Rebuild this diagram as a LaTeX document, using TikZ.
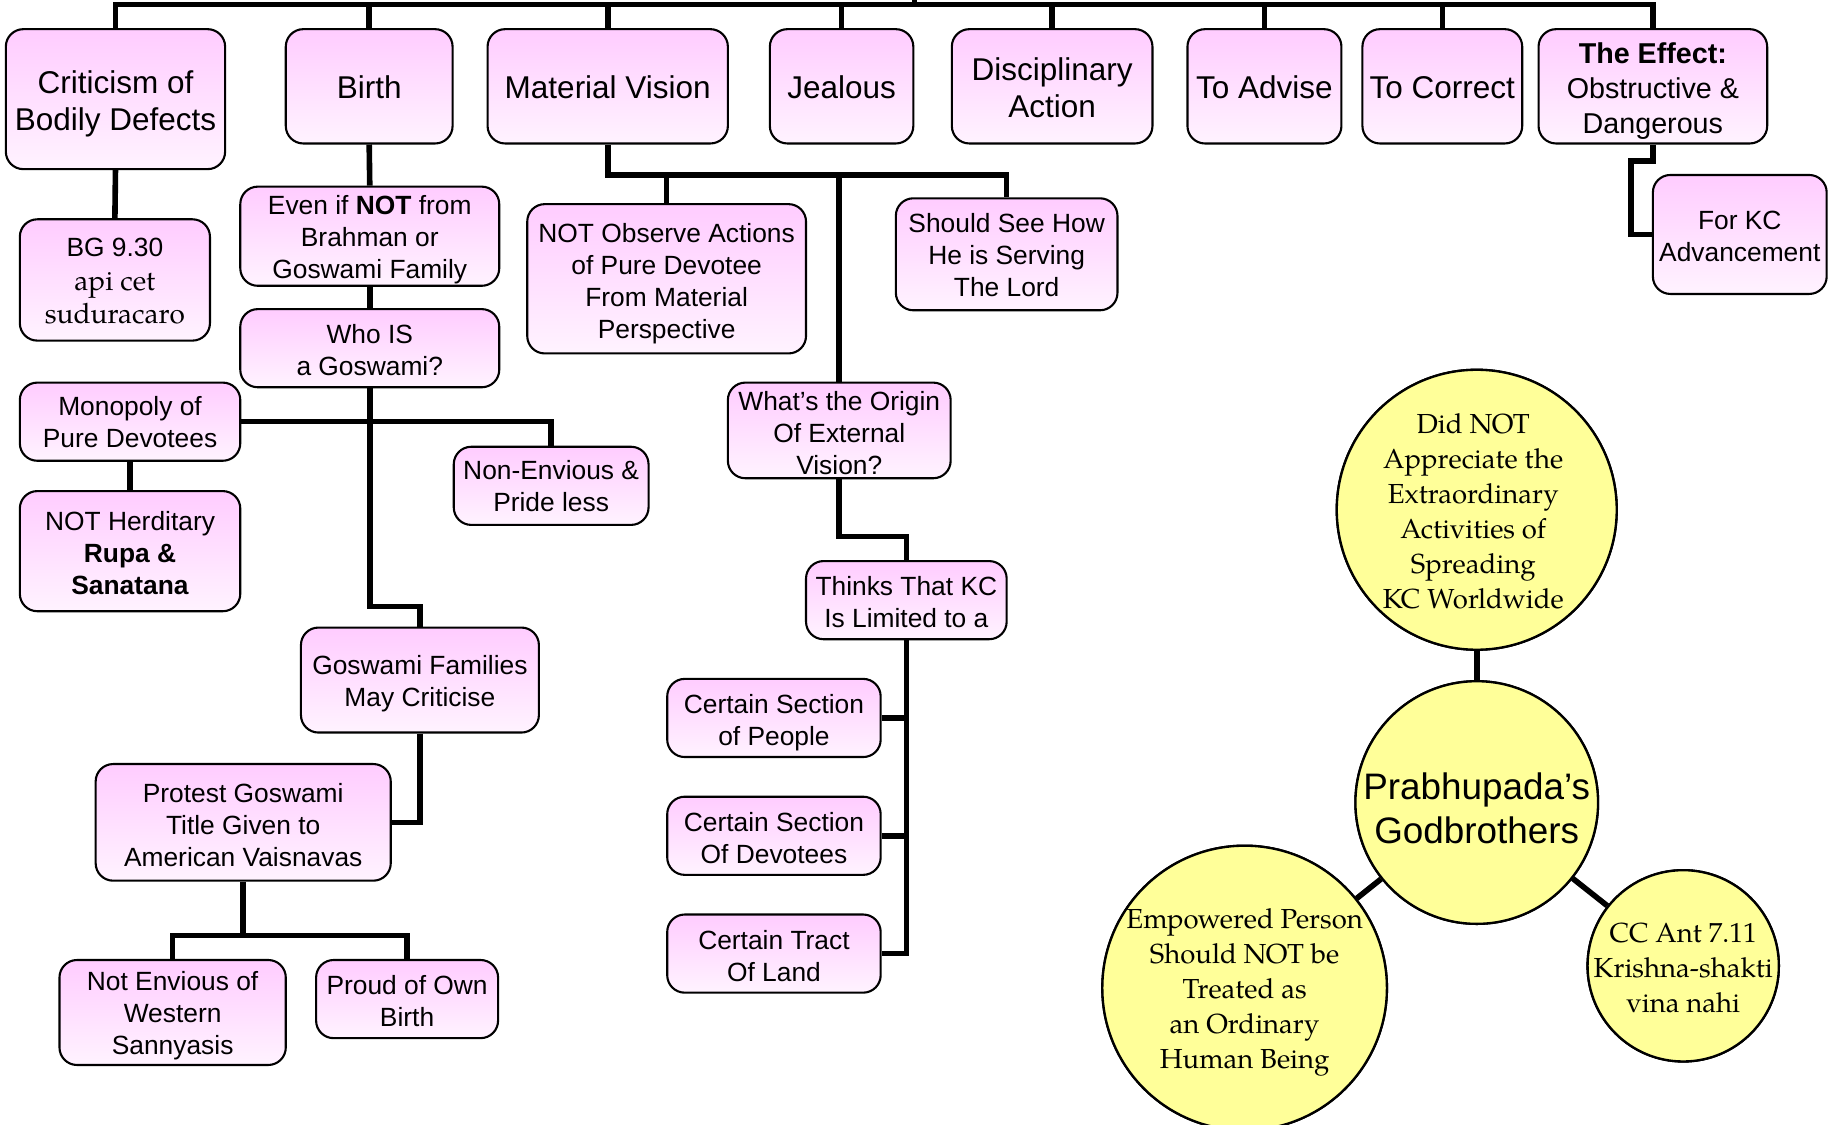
\documentclass[tikz,border=0pt]{standalone}
\usepackage{fontspec}
\setmainfont{Liberation Sans}
\newfontfamily\pal{texgyrepagella-regular.otf}
\definecolor{pinktop}{RGB}{255,204,255}
\definecolor{pinkbot}{RGB}{255,243,255}
\definecolor{bubyellow}{RGB}{255,255,153}
\newcommand\fsmall{\fontsize{11.3pt}{13.75pt}\selectfont}
\newcommand\fbig{\fontsize{13.5pt}{16pt}\selectfont}
\newcommand\feff{\fontsize{12.3pt}{15pt}\selectfont}
\newcommand\fser{\pal\fontsize{11.8pt}{15pt}\selectfont}
\newcommand\fprab{\fontsize{15.8pt}{19pt}\selectfont}
% rounded pink box given by its corners, with its text set on top:
% [text options]{name}{x1}{y1}{x2}{y2}{text}
\newcommand\pinkbox[7][]{%
  \node[pbox,minimum width={(#5-#3)*0.5pt},minimum height={(#6-#4)*0.5pt}]
    (#2) at ({(#3+#5)/2},{(#4+#6)/2}) {};
  \node[boxtext,#1] (#2t) at (#2.center) {#7};}
\begin{document}
\begin{tikzpicture}[x=0.5pt,y=-0.5pt,
  pbox/.style={draw,line width=0.9pt,rounded corners=7.5pt,top color=pinktop,
    bottom color=pinkbot,inner sep=0pt},
  boxtext/.style={align=center,inner sep=0pt,font=\fsmall,yshift=-1pt},
  conn/.style={line width=2.4pt},
  bubble/.style={circle,draw,line width=1pt,fill=bubyellow,inner sep=0pt},
  bubtext/.style={align=center,inner sep=0pt,font=\fser}]
\useasboundingbox (0,0) rectangle (1568,964);

% top row
\pinkbox[font=\fbig,yshift=-1pt]{crit}{5}{25}{193}{145}{Criticism of\\Bodily Defects}
\pinkbox[font=\fbig,yshift=0.5pt]{birth}{245}{25}{388}{123}{Birth}
\pinkbox[font=\fbig,yshift=0.5pt]{matvis}{418}{25}{624}{123}{Material Vision}
\pinkbox[font=\fbig,yshift=0.5pt]{jealous}{660}{25}{783}{123}{Jealous}
\pinkbox[font=\fbig,yshift=0.5pt]{disc}{816}{25}{988}{123}{Disciplinary\\Action}
\pinkbox[font=\fbig,yshift=0.5pt]{advise}{1018}{25}{1150}{123}{To Advise}
\pinkbox[font=\fbig,yshift=0.5pt]{correct}{1168}{25}{1305}{123}{To Correct}
\pinkbox[font=\feff,yshift=-1pt]{effect}{1319}{25}{1515}{123}{\textbf{The Effect:}\\Obstructive \&\\Dangerous}

% bodily defects
\pinkbox[font={\fontsize{11.3pt}{14.5pt}\selectfont},yshift=0.5pt]{bg}{17}{188}{180}{292}{BG 9.30\\{\pal\fontsize{12pt}{14.5pt}\selectfont api cet}\\{\pal\fontsize{12pt}{14.5pt}\selectfont suduracaro}}

% birth
\pinkbox[yshift=-0.5pt]{even}{206}{160}{428}{245}{Even if \textbf{NOT} from\\Brahman or\\Goswami Family}
\pinkbox{who}{206}{265}{428}{332}{Who IS\\a Goswami?}
\pinkbox[yshift=1pt]{mono}{17}{328}{206}{395}{Monopoly of\\Pure Devotees}
\pinkbox[yshift=1pt]{nonenv}{389}{383}{556}{450}{Non-Envious \&\\Pride less}
\pinkbox{noth}{17}{421}{206}{524}{NOT Herditary\\\textbf{Rupa \&}\\\textbf{Sanatana}}
\pinkbox[yshift=-0.5pt]{gosfam}{258}{538}{462}{628}{Goswami Families\\May Criticise}
\pinkbox{protest}{82}{655}{335}{755}{Protest Goswami\\Title Given to\\American Vaisnavas}
\pinkbox[yshift=-0.5pt]{noten}{51}{823}{245}{913}{Not Envious of\\Western\\Sannyasis}
\pinkbox{proud}{271}{823}{427}{890}{Proud of Own\\Birth}

% material vision
\pinkbox[yshift=-1pt]{notobs}{452}{175}{691}{303}{NOT Observe Actions\\of Pure Devotee\\From Material\\Perspective}
\pinkbox[yshift=0.5pt]{should}{768}{170}{958}{266}{Should See How\\He is Serving\\The Lord}
\pinkbox{whats}{624}{328}{815}{410}{What’s the Origin\\Of External\\Vision?}
\pinkbox{thinks}{691}{481}{863}{548}{Thinks That KC\\Is Limited to a}
\pinkbox[yshift=-1pt]{certa}{572}{582}{755}{649}{Certain Section\\of People}
\pinkbox{certb}{572}{683}{755}{750}{Certain Section\\Of Devotees}
\pinkbox{certc}{572}{784}{755}{851}{Certain Tract\\Of Land}

% the effect
\pinkbox{kcadv}{1417}{150}{1566}{252}{For KC\\Advancement}

% top bar
\coordinate (bar) at (784,4);
\coordinate (barup) at (784,-10);
\draw[conn] (bar) -- (barup);
\draw[conn] (crit.north) -- (crit.north |- bar) -- (effect.north |- bar) -- (effect.north);
\foreach \n in {birth,matvis,jealous,disc,advise,correct}
  \draw[conn] (\n.north) -- (\n.north |- bar);

% bodily defects connector
\draw[conn] (crit.south) -- (bg.north);

% birth connectors
\draw[conn] (birth.south) -- (even.north);
\draw[conn] (even.south) -- (who.north);
\coordinate (wj) at (317,520);
\draw[conn] (who.south) -- (who.south |- wj) -| (gosfam.north);
\draw[conn] (mono.east) -| (nonenv.north);
\draw[conn] (mono.south) -- (noth.north);
\draw[conn] (gosfam.south) |- (protest.east);
\coordinate (pj) at (209,802);
\draw[conn] (protest.south) -- (protest.south |- pj);
\draw[conn] (noten.north) -- (noten.north |- pj) -- (proud.north |- pj) -- (proud.north);

% material vision connectors
\coordinate (mj) at (520,150);
\draw[conn] (matvis.south) -- (matvis.south |- mj) -- (should.north |- mj) -- (should.north);
\draw[conn] (notobs.north) -- (notobs.north |- mj);
\draw[conn] (whats.north) -- (whats.north |- mj);
\coordinate (oj) at (720,460);
\draw[conn] (whats.south) -- (whats.south |- oj) -| (thinks.north);
\draw[conn] (thinks.south) |- (certc.east);
\draw[conn] (certa.east) -- (certa.east -| thinks.south);
\draw[conn] (certb.east) -- (certb.east -| thinks.south);

% the effect connector
\coordinate (ej) at (1398,138);
\draw[conn] (effect.south) -- (effect.south |- ej) -- (ej) |- (kcadv.west);

% godbrothers
\node[bubble,minimum size={240*0.5pt}] (didnot) at (1266,437) {};
\node[bubble,minimum size={208*0.5pt}] (prab) at (1266,688) {};
\node[bubble,minimum size={244*0.5pt}] (empow) at (1067,847) {};
\node[bubble,minimum size={164*0.5pt}] (cc) at (1443,828) {};
\draw[conn] (didnot.south) -- (prab.north);
\draw[conn] (prab) -- (empow);
\draw[conn] (prab) -- (cc);
\node[bubble,minimum size={240*0.5pt}] (didnotc) at (didnot) {};
\node[bubble,minimum size={208*0.5pt}] (prabc) at (prab) {};
\node[bubble,minimum size={244*0.5pt}] (empowc) at (empow) {};
\node[bubble,minimum size={164*0.5pt}] (ccc) at (cc) {};
\node[bubtext] (didnottext) at (1263,438) {Did NOT\\Appreciate the\\Extraordinary\\Activities of\\Spreading\\KC Worldwide};
\node[bubtext,font=\fprab] (prabtext) at (1266,693) {Prabhupada’s\\Godbrothers};
\node[bubtext] (empowtext) at (1067,850.5) {Empowered Person\\Should NOT be\\Treated as\\an Ordinary\\Human Being};
\node[bubtext] (cctext) at (1443,830) {CC Ant 7.11\\Krishna-shakti\\vina nahi};
\end{tikzpicture}
\end{document}
